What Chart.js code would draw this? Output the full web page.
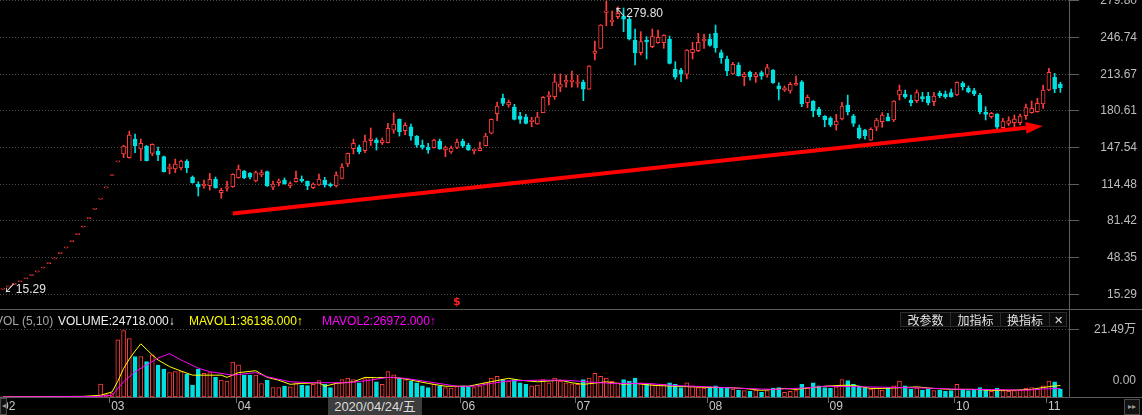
<!DOCTYPE html>
<html>
<head>
<meta charset="utf-8">
<title>K线 + VOL</title>
<script src="https://cdn.jsdelivr.net/npm/chart.js@4.4.1/dist/chart.umd.min.js"></script>
<style>
  html, body { margin: 0; padding: 0; background: #000; }
  #stage { position: relative; width: 1142px; height: 415px; overflow: hidden; background: #000;
           font-family: "Liberation Sans", "Noto Sans CJK SC", sans-serif; }
  #stage canvas { position: absolute; left: 0; }
  #price { top: 0; }
  #vol { top: 310px; }
  .rule { position: absolute; background: #5a5a5a; }
  #volHead span { position: absolute; top: 313px; font-size: 12px; line-height: 16px; white-space: nowrap; }
  .tool { position: absolute; top: 312px; height: 15px; background: #0b0b0b; border: 1px solid #2c2c2c;
          box-sizing: border-box; color: #e2e2e2; font-size: 12px; line-height: 13px; text-align: center;
          font-family: "Noto Sans CJK SC", sans-serif; }
  .btn { position: absolute; border: 1px solid #4a4a4a; box-sizing: border-box; color: #9a9a9a;
         font-size: 8px; line-height: 14px; text-align: center; background: #111; }
  #dateTag { position: absolute; top: 398px; height: 17px; width: 94px; background: #3d3d3d; color: #dcdcdc;
             font-size: 13px; line-height: 17px; text-align: center; font-family: "Liberation Sans", "Noto Sans CJK SC", sans-serif; }
</style>
</head>
<body>
<div id="stage">
  <canvas id="price" width="1142" height="309"></canvas>
  <canvas id="vol" width="1142" height="105"></canvas>
  <div class="rule" style="left:0;top:309px;width:1142px;height:1px"></div>
  <div class="rule" style="left:1069px;top:309px;width:1px;height:20px"></div>
  <div class="rule" style="left:1069px;top:397px;width:73px;height:1px"></div>
  <div id="volHead">
    <span style="left:-5px;color:#a6a6a6">VOL (5,10)</span>
    <span id="hVol" style="left:58px;color:#eeeeee"></span>
    <span id="hMa1" style="left:189px;color:#ffff00"></span>
    <span id="hMa2" style="left:322px;color:#ff00ff"></span>
  </div>
  <div class="tool" style="left:900px;width:51px">改参数</div>
  <div class="tool" style="left:950px;width:51px">加指标</div>
  <div class="tool" style="left:1000px;width:50px">换指标</div>
  <div class="tool" style="left:1049px;width:18px;font-size:11px">✕</div>
  <div class="btn" style="left:0;top:398px;width:7px;height:17px">◂</div>
  <div class="btn" style="left:1124px;top:399px;width:16px;height:16px">▸▸</div>
  <div id="dateTag"></div>
</div>
<script>
// one entry per trading day, 2020-02-04 .. 2020-11-04
// listing run of one-price limit-up days (open = high = low = close)
const limitDays = [20.00, 22.02, 24.22, 26.64, 29.30, 32.23, 35.45, 39.00, 42.90, 47.19,
  51.91, 57.10, 62.81, 69.09, 76.00, 83.60, 91.96, 101.16, 111.28, 122.41, 134.65];

const opens = limitDays.concat([
  141.8, 138.5, 155.3, 146.3, 149.0, 142.4, 144.5, 139.4, 128.6, 128.3,
  129.2, 135.2, 121.0, 114.8, 113.2, 113.2, 119.0, 106.9, 110.9, 112.3,
  120.4, 126.5, 124.4, 117.5, 122.9, 125.9, 111.8, 116.0, 118.3, 113.0,
  116.8, 119.3, 117.2, 111.4, 113.9, 118.3, 114.8, 113.0, 119.9, 132.8,
  146.6, 148.1, 144.8, 153.8, 154.7, 152.0, 152.0, 163.4, 173.1, 162.9,
  166.4, 158.0, 149.9, 148.1, 147.5, 153.5, 145.4, 143.6, 147.8, 153.5,
  149.9, 144.8, 144.8, 149.3, 160.5, 178.2, 192.3, 186.0, 183.9, 176.0,
  175.4, 171.0, 168.9, 179.1, 193.5, 193.5, 202.0, 206.7, 207.0, 205.6,
  206.7, 200.2, 232.6, 237.1, 269.6, 261.1, 265.6, 266.3, 263.6, 244.6,
  233.2, 244.6, 238.6, 242.2, 242.2, 245.5, 218.2, 217.6, 213.7, 233.2,
  235.0, 243.7, 245.2, 250.6, 233.2, 227.5, 214.0, 222.1, 211.5, 215.5,
  211.5, 215.2, 213.1, 217.6, 203.4, 199.5, 198.6, 204.0, 207.0, 188.1,
  189.6, 182.4, 176.0, 174.0, 168.0, 173.4, 186.0, 176.0, 165.5, 163.4,
  154.4, 165.9, 171.0, 175.4, 172.5, 195.0, 195.9, 190.5, 189.9, 193.5,
  194.1, 189.0, 196.5, 195.9, 197.1, 195.0, 205.5, 201.3, 198.9, 195.0,
  179.4, 175.4, 177.9, 165.5, 169.5, 170.0, 170.0, 176.4, 179.1, 180.0,
  186.9, 199.5, 211.0, 204.9]);

const highs = limitDays.concat([
  149.7, 162.5, 159.8, 155.3, 149.5, 151.0, 148.1, 140.0, 132.8, 137.3,
  136.4, 136.7, 122.0, 116.8, 118.3, 124.4, 121.0, 111.1, 117.5, 124.0,
  131.9, 127.0, 125.0, 126.5, 127.4, 126.5, 117.5, 119.3, 120.2, 116.8,
  126.5, 122.0, 117.5, 115.8, 123.8, 120.8, 115.7, 125.6, 133.1, 142.6,
  155.3, 149.9, 158.9, 165.3, 156.2, 156.2, 169.5, 178.8, 173.5, 170.0,
  168.9, 158.5, 154.4, 151.5, 155.3, 155.3, 149.0, 149.0, 155.3, 155.3,
  151.5, 146.5, 152.6, 160.5, 173.5, 188.7, 195.9, 190.5, 186.6, 179.4,
  177.6, 174.9, 179.4, 193.5, 198.0, 214.0, 214.0, 213.0, 216.7, 213.0,
  208.5, 221.5, 243.7, 258.5, 279.8, 270.8, 274.6, 273.5, 265.1, 254.5,
  252.1, 247.6, 254.5, 253.6, 249.5, 248.2, 225.0, 219.1, 236.0, 242.5,
  250.6, 250.0, 250.0, 258.1, 235.6, 230.2, 224.5, 224.2, 215.5, 216.7,
  215.5, 216.7, 222.7, 218.0, 206.1, 203.1, 206.5, 212.2, 208.0, 195.0,
  190.0, 183.9, 176.5, 175.4, 177.6, 188.4, 195.0, 177.6, 168.0, 164.0,
  165.5, 174.0, 179.1, 178.5, 190.0, 204.0, 199.5, 195.0, 199.5, 197.4,
  197.4, 197.4, 198.6, 198.6, 200.4, 207.0, 207.0, 203.1, 201.0, 196.5,
  184.5, 179.4, 178.3, 174.0, 175.4, 177.0, 177.9, 186.9, 189.6, 192.0,
  204.0, 219.1, 214.6, 206.5]);

const lows = limitDays.concat([
  138.5, 138.0, 143.0, 135.8, 135.5, 140.3, 135.8, 125.5, 123.8, 125.0,
  127.5, 125.0, 115.5, 103.9, 110.9, 109.3, 111.0, 101.9, 108.4, 111.8,
  120.0, 119.5, 119.3, 116.6, 121.4, 112.5, 109.6, 113.0, 114.5, 111.2,
  116.5, 116.3, 109.6, 110.6, 113.5, 112.0, 112.0, 112.0, 119.3, 130.4,
  141.8, 142.0, 143.0, 149.3, 145.4, 150.4, 151.7, 160.5, 158.0, 159.2,
  154.4, 147.8, 146.1, 142.4, 147.0, 146.0, 139.4, 142.4, 146.6, 147.5,
  145.0, 141.8, 144.5, 149.0, 160.0, 171.9, 185.4, 184.0, 172.5, 169.5,
  169.0, 166.4, 168.5, 179.0, 186.0, 191.1, 198.0, 202.0, 202.0, 202.0,
  189.9, 200.0, 226.6, 237.0, 257.5, 257.5, 263.8, 252.1, 244.6, 222.1,
  231.1, 227.5, 237.7, 241.5, 237.1, 223.0, 209.2, 207.0, 209.5, 227.5,
  234.1, 237.1, 239.0, 233.5, 223.6, 212.4, 213.7, 212.0, 203.4, 208.5,
  206.4, 209.2, 211.0, 205.5, 190.5, 198.1, 196.6, 204.0, 184.5, 183.6,
  175.4, 175.4, 166.4, 166.4, 163.4, 172.5, 177.0, 166.7, 155.3, 155.3,
  154.0, 162.8, 165.9, 171.5, 171.0, 190.5, 192.0, 185.1, 188.1, 189.0,
  186.0, 185.4, 192.6, 192.0, 193.0, 194.5, 199.5, 197.0, 194.4, 177.9,
  172.5, 174.0, 164.1, 165.0, 167.3, 166.4, 168.0, 173.1, 178.5, 179.5,
  183.0, 199.0, 197.1, 197.4]);

const closes = limitDays.concat([
  149.0, 158.9, 149.3, 151.5, 135.8, 150.6, 140.9, 125.9, 130.1, 132.8,
  135.5, 129.5, 116.0, 112.1, 114.5, 119.0, 111.4, 109.1, 112.3, 123.5,
  128.3, 120.4, 121.0, 125.0, 125.0, 113.0, 114.8, 117.7, 114.8, 115.1,
  119.9, 117.5, 113.0, 114.8, 119.3, 113.9, 113.2, 122.9, 130.1, 142.4,
  151.5, 143.9, 153.5, 155.6, 151.7, 154.4, 165.0, 168.9, 162.0, 167.7,
  158.0, 149.9, 147.8, 145.4, 154.4, 146.3, 147.5, 147.2, 152.6, 149.0,
  145.4, 146.3, 147.2, 158.0, 173.1, 185.0, 187.5, 188.4, 173.1, 173.1,
  169.5, 172.5, 175.4, 193.0, 195.0, 207.0, 204.9, 208.5, 208.5, 207.0,
  200.2, 221.2, 234.7, 258.1, 270.8, 262.7, 268.6, 263.3, 245.5, 233.2,
  243.1, 242.8, 247.6, 247.0, 249.1, 223.6, 211.0, 213.7, 235.6, 236.2,
  242.5, 245.5, 239.8, 237.7, 228.7, 216.7, 222.7, 212.4, 214.0, 211.5,
  214.0, 212.2, 219.7, 206.1, 200.4, 201.6, 204.6, 205.5, 186.9, 192.9,
  180.6, 177.0, 172.5, 168.0, 171.6, 185.1, 180.0, 169.5, 156.5, 158.3,
  164.1, 172.5, 177.0, 171.9, 189.6, 199.5, 193.2, 188.1, 197.1, 191.4,
  188.1, 194.1, 194.4, 193.5, 193.5, 206.5, 202.5, 197.7, 195.9, 180.0,
  177.6, 178.5, 165.9, 171.6, 171.9, 173.4, 176.0, 183.6, 183.0, 187.5,
  199.5, 215.5, 200.4, 201.6]);

// volume in lots (手)
const volumes = [
  900, 300, 300, 350, 400, 450, 500, 550, 600, 700,
  800, 900, 1000, 1200, 1500, 2000, 3000, 40600, 8000, 12000,
  181000, 210000, 185000, 128000, 128000, 112000, 133000, 101000, 88600, 76800,
  80000, 80000, 72600, 37400, 88600, 74800, 76800, 62000, 53400, 50200,
  110000, 101400, 69400, 69400, 69400, 42800, 53400, 30000, 30000, 34200,
  32000, 45000, 38000, 36000, 40000, 52000, 40000, 30000, 45000, 55000,
  60000, 55000, 45000, 58000, 62000, 48000, 40000, 80000, 70000, 60000,
  55000, 50000, 45000, 35000, 30000, 40000, 35000, 30000, 28000, 33000,
  35000, 32000, 30000, 35000, 45000, 60000, 65000, 55000, 50000, 55000,
  45000, 40000, 35000, 38000, 55000, 45000, 60000, 50000, 45000, 42000,
  40000, 55000, 60000, 75000, 65000, 60000, 50000, 45000, 55000, 50000,
  60000, 45000, 40000, 42000, 38000, 40000, 45000, 40000, 30000, 45000,
  35000, 30000, 28000, 32000, 35000, 28000, 30000, 25000, 22000, 20000,
  18000, 22000, 15000, 20000, 28000, 30000, 15000, 18000, 20000, 40000,
  30000, 45000, 35000, 30000, 28000, 32000, 55000, 52000, 40000, 35000,
  30000, 25000, 28000, 22000, 30000, 35000, 50000, 35000, 25000, 28000,
  22000, 25000, 20000, 22000, 18000, 20000, 40000, 25000, 20000, 22000,
  30000, 25000, 18000, 28000, 20000, 18000, 20000, 22000, 28000, 30000,
  25000, 35000, 50000, 48000, 24718];

// MAVOL lines (day index, value)
const mavol1X = [0, 14, 17, 19, 20, 21, 22, 23, 24, 26, 27, 29, 31, 33, 35, 38, 39, 41, 44, 46,
  48, 50, 52, 55, 56, 58, 61, 63, 65, 68, 70, 74, 77, 81, 84, 88, 90, 93, 97, 99,
  101, 105, 108, 110, 113, 117, 120, 123, 126, 129, 132, 136, 138, 141, 143, 146, 148, 151, 153, 157,
  159, 162, 165, 169, 172, 175, 179, 181, 183, 184];
const mavol1 = [400, 2000, 5400, 16000, 50000, 90000, 120000, 145000, 168000, 133000, 117000, 96000, 82000, 69000, 69000, 69000, 62000, 77000, 83000, 62000,
  53000, 40000, 43000, 45000, 34000, 43000, 48000, 62000, 61000, 62000, 57000, 43000, 34000, 34000, 45000, 59000, 53000, 48000, 53000, 45000,
  40000, 48000, 40000, 43000, 37000, 34000, 32000, 30000, 30000, 27000, 21000, 27000, 24000, 30000, 34000, 37000, 37000, 27000, 27000, 30000,
  32000, 27000, 24000, 24000, 21000, 21000, 24000, 30000, 35000, 36136];

const mavol2X = [0, 16, 19, 21, 23, 25, 27, 29, 31, 34, 36, 40, 44, 46, 50, 54, 60, 63, 67, 70,
  74, 79, 82, 85, 88, 93, 98, 103, 106, 112, 117, 123, 129, 134, 140, 143, 150, 156, 161, 166,
  172, 178, 181, 184];
const mavol2 = [400, 1500, 5400, 48000, 80000, 101000, 123000, 137000, 117000, 91000, 80000, 69000, 77000, 64000, 48000, 45000, 45000, 51000, 62000, 59000,
  48000, 34000, 34000, 43000, 51000, 53000, 53000, 46000, 43000, 43000, 36000, 32000, 27000, 24000, 29000, 34000, 32000, 30000, 28000, 24600,
  23700, 21400, 25600, 26972];

// axes
const priceTicks = [15.29, 48.35, 81.42, 114.48, 147.54, 180.61, 213.67, 246.74, 279.80];
const priceMin = 2.03, priceMax = 280.70;
const volTop = 214900;
const monthStart = [0, 19, 41, 62, 80, 100, 123, 144, 166, 182];
const monthLabels = ['02', '03', '04', '05', '06', '07', '08', '09', '10', '11'];
const slots = 186;                     // 185 trading days + one empty slot on the right
const slotLabels = Array.from({length: slots}, (_, i) => i);
const crossIndex = 57, crossDate = '2020/04/24/五';
const signalIndex = 79;

// hand-drawn trend arrow (day index, price): start and arrow-head base
const trendLine = [[40, 88.1], [178, 165.4]];

const RED = '#ff3c3c', CYAN = '#00e0e0';
const rising = closes.map((c, i) => c >= opens[i]);
const lineColor = rising.map(r => r ? RED : CYAN);
const fillColor = rising.map(r => r ? '#000000' : CYAN);
const FONT = '12px "Liberation Sans", "Noto Sans CJK SC", sans-serif';

const priceDecor = {
  id: 'priceDecor',
  afterDatasetsDraw(chart) {
    const ctx = chart.ctx;
    const pts = chart.getDatasetMeta(0).data;
    const p0 = pts[0], p1 = pts[1];
    const len = Math.hypot(p1.x - p0.x, p1.y - p0.y);
    const ux = (p1.x - p0.x) / len, uy = (p1.y - p0.y) / len;
    ctx.save();
    ctx.fillStyle = '#ff0000';
    ctx.beginPath();
    ctx.moveTo(p1.x + ux * 17, p1.y + uy * 17);
    ctx.lineTo(p1.x - uy * 6, p1.y + ux * 6);
    ctx.lineTo(p1.x + uy * 6, p1.y - ux * 6);
    ctx.closePath();
    ctx.fill();
    ctx.restore();
  },
  afterDraw(chart) {
    const {ctx, scales: {x, y}} = chart;
    ctx.save();
    ctx.font = FONT;
    ctx.textBaseline = 'middle';
    ctx.textAlign = 'right';
    ctx.fillStyle = '#bdbdbd';
    priceTicks.forEach(v => ctx.fillText(v.toFixed(2), 1137, y.getPixelForValue(v)));

    ctx.textAlign = 'left';
    ctx.fillStyle = '#e4e4e4';
    const hi = Math.max(...highs);
    const hk = highs.indexOf(hi);
    ctx.fillText('↖' + hi.toFixed(2), x.getPixelForValue(hk) + 8, y.getPixelForValue(hi) + 13);
    const lo = priceTicks[0];
    ctx.fillText('↙' + lo.toFixed(2), x.getPixelForValue(0) + 1, y.getPixelForValue(lo) - 5);

    ctx.fillStyle = '#ff2020';
    ctx.font = 'bold 11px "DejaVu Sans", sans-serif';
    ctx.textAlign = 'center';
    ctx.fillText('$', x.getPixelForValue(signalIndex), 302);
    ctx.restore();
  }
};

new Chart(document.getElementById('price'), {
  type: 'bar',
  data: {
    labels: slotLabels,
    datasets: [
      { type: 'line', data: trendLine.map(([x, y]) => ({x, y})), borderColor: '#ff0000', borderWidth: 4,
        pointRadius: 0, order: 0 },
      { data: closes.map((c, i) => ({x: i, y: [opens[i], c]})), backgroundColor: fillColor, borderColor: lineColor,
        borderWidth: 1, borderSkipped: false, barThickness: 4, minBarLength: 1, grouped: false, order: 1 },
      { data: closes.map((c, i) => ({x: i, y: [lows[i], highs[i]]})), backgroundColor: lineColor,
        borderWidth: 0, barThickness: 1, grouped: false, order: 2 }
    ]
  },
  options: {
    responsive: false, animation: false, events: [],
    layout: { padding: 0 },
    plugins: { legend: { display: false }, tooltip: { enabled: false } },
    scales: {
      x: { type: 'category', offset: true, display: false },
      y: {
        position: 'right', min: priceMin, max: priceMax,
        afterBuildTicks: s => { s.ticks = priceTicks.map(v => ({value: v})); },
        afterFit: s => { s.width = 73; },
        ticks: { display: false },
        grid: { color: '#4d4d4d', tickColor: '#5f5f5f', tickLength: 10, tickBorderDash: [] },
        border: { color: '#5f5f5f', dash: [1, 2] }
      }
    }
  },
  plugins: [priceDecor]
});

const volDecor = {
  id: 'volDecor',
  afterDraw(chart) {
    const {ctx, scales: {x, y}, chartArea} = chart;
    const half = (x.getPixelForValue(1) - x.getPixelForValue(0)) / 2;
    ctx.save();
    // month tick marks at the left edge of each month's first day
    ctx.strokeStyle = '#6a6a6a';
    ctx.lineWidth = 1;
    ctx.beginPath();
    monthStart.forEach(k => {
      const px = Math.round(x.getPixelForValue(k) - half) + 0.5;
      ctx.moveTo(px, chartArea.bottom);
      ctx.lineTo(px, chartArea.bottom + 6);
    });
    ctx.stroke();

    ctx.font = FONT;
    ctx.textBaseline = 'middle';
    ctx.textAlign = 'right';
    ctx.fillStyle = '#bdbdbd';
    ctx.fillText((volTop / 10000).toFixed(2) + '万', 1136, y.getPixelForValue(volTop) + 1);
    ctx.fillText('0.00', 1136, y.getPixelForValue(0) - 16);
    ctx.textAlign = 'left';
    ctx.fillStyle = '#c8c8c8';
    monthStart.forEach((k, i) => ctx.fillText(monthLabels[i], x.getPixelForValue(k) - half + 2, chartArea.bottom + 10));
    ctx.restore();

    const tag = document.getElementById('dateTag');
    tag.textContent = crossDate;
    tag.style.left = Math.round(x.getPixelForValue(crossIndex) - half) + 'px';
  }
};

new Chart(document.getElementById('vol'), {
  type: 'bar',
  data: {
    labels: slotLabels,
    datasets: [
      { type: 'line', data: mavol1X.map((k, i) => ({x: k, y: mavol1[i]})), borderColor: '#ffff00', borderWidth: 1,
        pointRadius: 0, order: 1 },
      { type: 'line', data: mavol2X.map((k, i) => ({x: k, y: mavol2[i]})), borderColor: '#ff00ff', borderWidth: 1,
        pointRadius: 0, order: 0 },
      { data: volumes.map((v, i) => ({x: i, y: v})), backgroundColor: fillColor, borderColor: lineColor,
        borderWidth: 1, borderSkipped: false, barThickness: 4, grouped: false, order: 2 }
    ]
  },
  options: {
    responsive: false, animation: false, events: [],
    layout: { padding: { top: 19 } },
    plugins: { legend: { display: false }, tooltip: { enabled: false } },
    scales: {
      x: {
        type: 'category', offset: true,
        afterFit: s => { s.height = 18; },
        ticks: { display: false },
        grid: { display: false },
        border: { display: true, color: '#5f5f5f' }
      },
      y: {
        position: 'right', min: 0, max: volTop,
        afterBuildTicks: s => { s.ticks = [{value: volTop}]; },
        afterFit: s => { s.width = 73; },
        ticks: { display: false },
        grid: { color: '#4d4d4d', tickColor: '#5f5f5f', tickLength: 10, tickBorderDash: [] },
        border: { color: '#5f5f5f', dash: [1, 2] }
      }
    }
  },
  plugins: [volDecor]
});

// indicator header values (last day)
document.getElementById('hVol').textContent = 'VOLUME:' + volumes[volumes.length - 1].toFixed(3) + '↓';
document.getElementById('hMa1').textContent = 'MAVOL1:' + mavol1[mavol1.length - 1].toFixed(3) + '↑';
document.getElementById('hMa2').textContent = 'MAVOL2:' + mavol2[mavol2.length - 1].toFixed(3) + '↑';
</script>
</body>
</html>
